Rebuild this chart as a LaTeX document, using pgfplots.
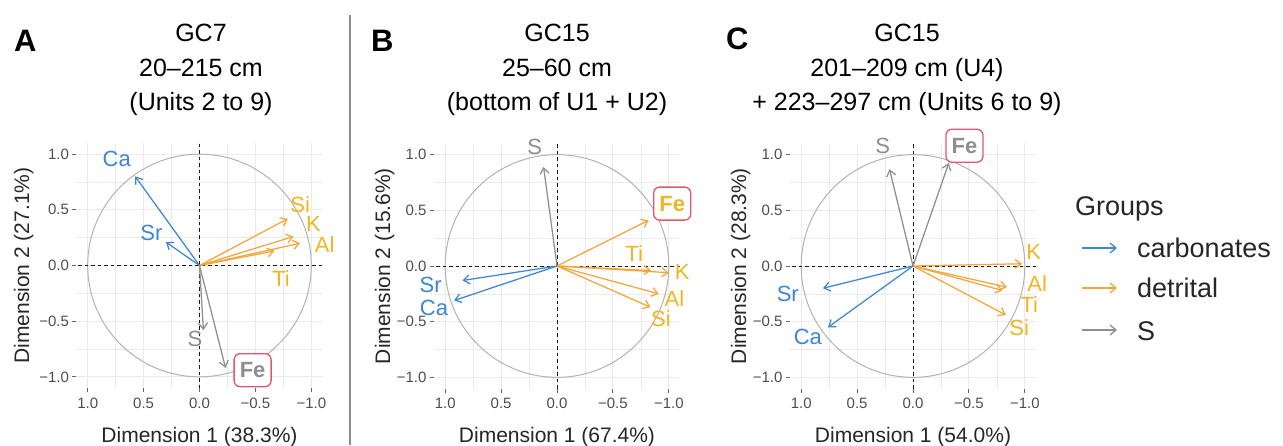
\documentclass[border=0pt]{standalone}
\usepackage{pgfplots}
\pgfplotsset{compat=1.18}
\usetikzlibrary{arrows.meta}
\usepackage{fontspec}
\setmainfont{Liberation Sans}
\definecolor{cblue}{HTML}{3D86D2}
\definecolor{corange}{HTML}{F5A53A}
\definecolor{corlab}{HTML}{F2B521}
\definecolor{cgray}{HTML}{8E8E8E}
\definecolor{cred}{HTML}{E0586A}
\definecolor{gridc}{HTML}{EBEBEB}
\definecolor{ticktxt}{HTML}{4D4D4D}

\newcommand{\arr}[3]{\addplot[#1, line width=1.25pt, -{Straight Barb[length=6pt,width=9pt]}] coordinates {(0,0) (#2,#3)};}
\newcommand{\lab}[4]{\node[text=#1, font=\fontsize{22}{22}\selectfont, inner sep=0pt] at (axis cs:#2,#3) {#4};}
\newcommand{\felab}[3]{\node[draw=cred, line width=1.3pt, fill=white, rounded corners=6pt, text=#1, font=\fontsize{22}{22}\selectfont\bfseries, minimum width=37pt, minimum height=33pt, inner sep=2pt] at (axis cs:#2,#3) {Fe};}

\pgfplotsset{pca/.style={
  scale only axis, width=246pt, height=245pt,
  x dir=reverse, xmin=-1.1, xmax=1.1, ymin=-1.1, ymax=1.1,
  xtick={-1,-0.5,0,0.5,1}, ytick={-1,-0.5,0,0.5,1},
  xticklabels={−1.0,−0.5,0.0,0.5,1.0}, yticklabels={−1.0,−0.5,0.0,0.5,1.0},
  minor xtick={-0.75,-0.25,0.25,0.75}, minor ytick={-0.75,-0.25,0.25,0.75},
  grid=both, major grid style={draw=gridc, line width=0.9pt}, minor grid style={draw=gridc, line width=0.5pt},
  axis line style={draw=none},
  xtick pos=bottom, ytick pos=left,
  tick align=outside, major tick length=4pt, minor tick length=0pt,
  every tick/.style={draw=black!60, line width=0.9pt},
  tick label style={font=\fontsize{15}{16}\selectfont, text=ticktxt},
  xticklabel style={yshift=-2pt},
  label style={font=\fontsize{21}{22}\selectfont, text=black!85},
  xlabel style={at={(axis description cs:0.5,-0.2)}, anchor=center},
  clip=false, anchor=origin,
}}

\newcommand{\pcaframe}{%
  \draw[black!30, line width=1pt] (axis cs:0,0) ellipse [x radius=1, y radius=1];
  \draw[black!90, line width=1pt, dash pattern=on 3.5pt off 3pt] (axis cs:0,-1.1) -- (axis cs:0,1.1);
  \draw[black!90, line width=1pt, dash pattern=on 3.5pt off 3pt] (axis cs:-1.1,0) -- (axis cs:1.1,0);
}

\begin{document}
\begin{tikzpicture}
\useasboundingbox (0pt,0pt) rectangle (1283pt,445pt);

% separator
\draw[black!45, line width=1.3pt] (350pt,430pt) -- (350pt,0pt);

% panel letters and titles
\begin{scope}[x=1pt,y=1pt,every node/.style={font=\fontsize{25}{25}\selectfont, anchor=base, inner sep=0pt}]
\node[font=\fontsize{31}{31}\selectfont\bfseries, anchor=base west] at (14,393) {A};
\node[font=\fontsize{31}{31}\selectfont\bfseries, anchor=base west] at (371,393) {B};
\node[font=\fontsize{31}{31}\selectfont\bfseries, anchor=base west] at (726,395) {C};
\node at (201,403) {GC7};
\node at (201,368) {20–215 cm};
\node at (201,334) {(Units 2 to 9)};
\node at (557,403) {GC15};
\node at (557,368) {25–60 cm};
\node at (557,334) {(bottom of U1 + U2)};
\node at (907,403) {GC15};
\node at (907,368) {201–209 cm (U4)};
\node at (907,334) {+ 223–297 cm (Units 6 to 9)};
\end{scope}

% Panel A
\begin{axis}[pca, at={(199.5pt,179.5pt)}, xlabel={Dimension 1 (38.3\%)}, ylabel={Dimension 2 (27.1\%)},
  ylabel style={at={(axis description cs:-0.215,0.5)}, anchor=center}]
\pcaframe
\arr{cblue}{0.575}{0.80}
\arr{cblue}{0.30}{0.21}
\arr{corange}{-0.79}{0.42}
\arr{corange}{-0.84}{0.26}
\arr{corange}{-0.90}{0.20}
\arr{corange}{-0.67}{0.13}
\arr{cgray}{-0.035}{-0.58}
\arr{cgray}{-0.233}{-0.92}
\lab{cblue}{0.74}{0.96}{Ca}
\lab{cblue}{0.43}{0.29}{Sr}
\lab{corlab}{-0.90}{0.55}{Si}
\lab{corlab}{-1.02}{0.37}{K}
\lab{corlab}{-1.12}{0.19}{Al}
\lab{corlab}{-0.73}{-0.12}{Ti}
\lab{cgray}{0.04}{-0.66}{S}
\felab{cgray}{-0.475}{-0.94}
\end{axis}

% Panel B
\begin{axis}[pca, at={(557pt,179pt)}, xlabel={Dimension 1 (67.4\%)}, ylabel={Dimension 2 (15.6\%)},
  ylabel style={at={(axis description cs:-0.2,0.5)}, anchor=center}]
\pcaframe
\arr{cgray}{0.12}{0.89}
\arr{corange}{-0.82}{0.41}
\arr{corange}{-0.84}{-0.04}
\arr{corange}{-1.00}{-0.06}
\arr{corange}{-0.91}{-0.25}
\arr{corange}{-0.835}{-0.37}
\arr{cblue}{0.845}{-0.13}
\arr{cblue}{0.92}{-0.31}
\lab{cgray}{0.20}{1.07}{S}
\lab{corlab}{-0.69}{0.11}{Ti}
\lab{corlab}{-1.12}{-0.05}{K}
\lab{corlab}{-1.05}{-0.29}{Al}
\lab{corlab}{-0.93}{-0.47}{Si}
\lab{cblue}{1.13}{-0.17}{Sr}
\lab{cblue}{1.10}{-0.38}{Ca}
\felab{corlab}{-1.03}{0.56}
\end{axis}

% Panel C
\begin{axis}[pca, at={(913pt,179pt)}, xlabel={Dimension 1 (54.0\%)}, ylabel={Dimension 2 (28.3\%)},
  ylabel style={at={(axis description cs:-0.2,0.5)}, anchor=center}]
\pcaframe
\arr{cgray}{0.21}{0.87}
\arr{cgray}{-0.32}{0.925}
\arr{corange}{-0.975}{0.02}
\arr{corange}{-0.84}{-0.19}
\arr{corange}{-0.80}{-0.22}
\arr{corange}{-0.83}{-0.44}
\arr{cblue}{0.805}{-0.20}
\arr{cblue}{0.76}{-0.55}
\lab{cgray}{0.27}{1.08}{S}
\lab{corlab}{-1.08}{0.13}{K}
\lab{corlab}{-1.11}{-0.16}{Al}
\lab{corlab}{-1.04}{-0.35}{Ti}
\lab{corlab}{-0.95}{-0.55}{Si}
\lab{cblue}{1.12}{-0.25}{Sr}
\lab{cblue}{0.94}{-0.64}{Ca}
\felab{cgray}{-0.46}{1.08}
\end{axis}

% legend
\begin{scope}[x=1pt,y=1pt]
\node[font=\fontsize{27}{27}\selectfont, text=black!85, anchor=base west, inner sep=0pt] at (1075,229) {Groups};
\draw[cblue, line width=1.3pt, -{Straight Barb[length=6pt,width=10pt]}] (1082,197) -- (1117,197);
\draw[corange, line width=1.3pt, -{Straight Barb[length=6pt,width=10pt]}] (1082,157) -- (1117,157);
\draw[cgray, line width=1.3pt, -{Straight Barb[length=6pt,width=10pt]}] (1082,115) -- (1117,115);
\node[font=\fontsize{27}{27}\selectfont, text=black!85, anchor=base west, inner sep=0pt] at (1137,187) {carbonates};
\node[font=\fontsize{27}{27}\selectfont, text=black!85, anchor=base west, inner sep=0pt] at (1137,147) {detrital};
\node[font=\fontsize{27}{27}\selectfont, text=black!85, anchor=base west, inner sep=0pt] at (1137,105) {S};
\end{scope}
\end{tikzpicture}
\end{document}
